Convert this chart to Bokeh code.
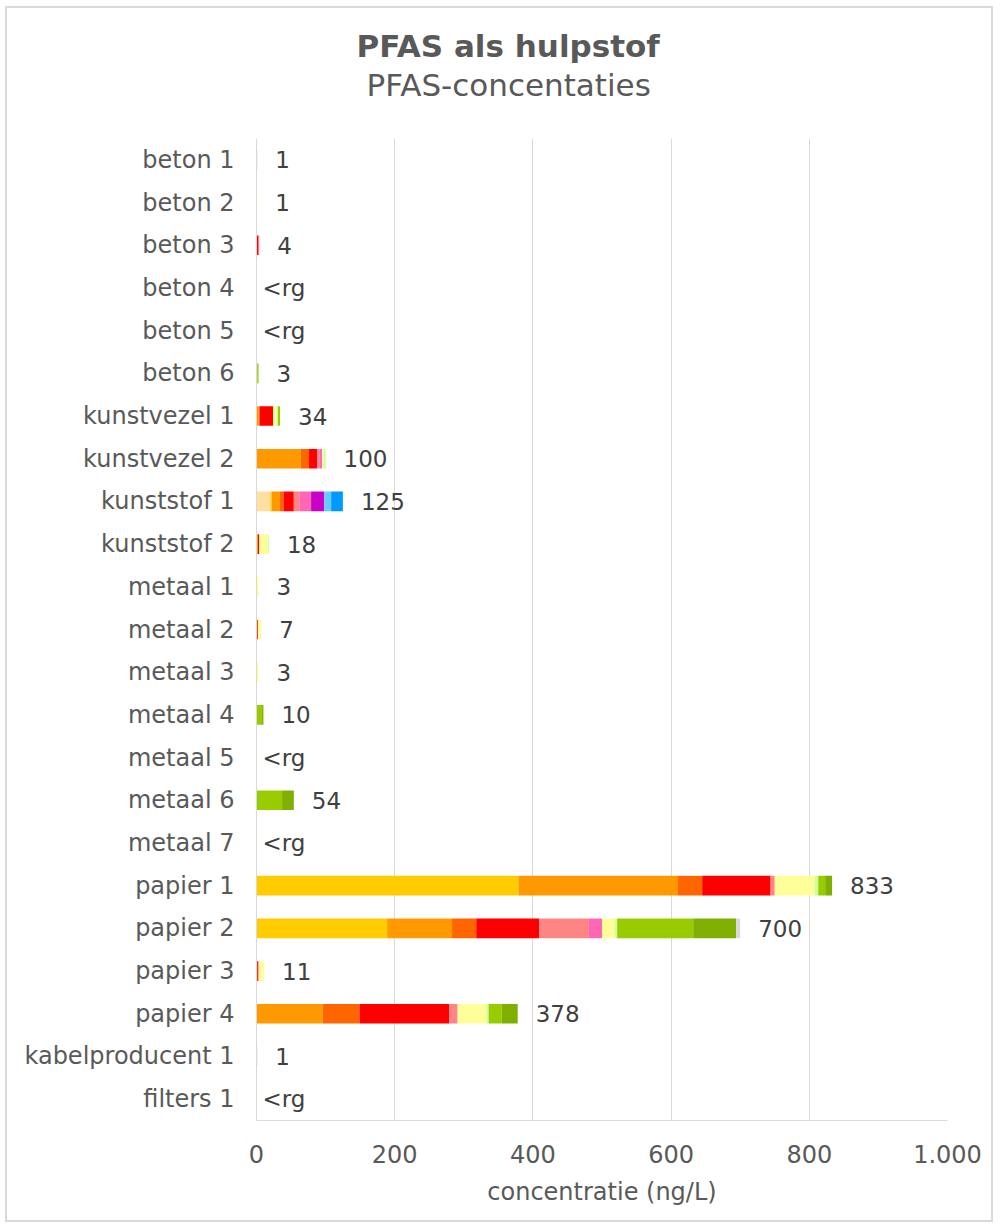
from bokeh.plotting import figure
from bokeh.models import ColumnDataSource, FactorRange, Range1d, Title, FixedTicker
from bokeh.embed import file_html
from bokeh.resources import INLINE
from bokeh.core.properties import value

categories = ["beton 1", "beton 2", "beton 3", "beton 4", "beton 5", "beton 6",
              "kunstvezel 1", "kunstvezel 2", "kunststof 1", "kunststof 2",
              "metaal 1", "metaal 2", "metaal 3", "metaal 4", "metaal 5", "metaal 6", "metaal 7",
              "papier 1", "papier 2", "papier 3", "papier 4", "kabelproducent 1", "filters 1"]

labels = ["1", "1", "4", "<rg", "<rg", "3", "34", "100", "125", "18", "3", "7", "3", "10",
          "<rg", "54", "<rg", "833", "700", "11", "378", "1", "<rg"]

# order:   b1 b2 b3 b4 b5 b6 kv1 kv2 ks1 ks2 m1 m2 m3 m4 m5 m6 m7 p1 p2 p3 p4 kab fil
comp_01 = [0, 0, 0, 0, 0, 0, 0, 0, 20, 0, 0, 0, 0, 0, 0, 0, 0, 0, 0, 0, 0, 0, 0]
comp_02 = [0, 0, 0, 0, 0, 0, 0, 0, 2, 0, 0, 0, 0, 0, 0, 0, 0, 379, 189, 0, 0, 0, 0]
comp_03 = [0, 0, 0, 0, 0, 0, 3, 64, 12, 2, 0, 0, 0, 0, 0, 0, 0, 231, 94, 0, 96, 0, 0]
comp_04 = [0, 0, 0, 0, 0, 0, 2, 12, 5, 0, 0, 0, 0, 0, 0, 0, 0, 35, 35, 1, 53, 0, 0]
comp_05 = [0, 0, 3, 0, 0, 0, 19, 12, 15, 2, 0, 2, 0, 0, 0, 0, 0, 99, 91, 2, 130, 0, 0]
comp_06 = [1, 0, 1, 0, 0, 0, 0, 3, 8, 0, 0, 0, 0, 0, 0, 0, 0, 6, 72, 0, 12, 1, 0]
comp_07 = [0, 0, 0, 0, 0, 0, 0, 4, 17, 0, 0, 0, 0, 0, 0, 0, 0, 0, 19, 0, 0, 0, 0]
comp_08 = [0, 0, 0, 0, 0, 0, 0, 0, 19, 0, 0, 0, 0, 0, 0, 0, 0, 0, 0, 0, 0, 0, 0]
comp_09 = [0, 0, 0, 0, 0, 0, 0, 0, 10, 0, 0, 0, 0, 0, 0, 0, 0, 0, 0, 0, 0, 0, 0]
comp_10 = [0, 0, 0, 0, 0, 0, 0, 0, 17, 0, 0, 0, 0, 0, 0, 0, 0, 0, 0, 0, 0, 0, 0]
comp_11 = [0, 1, 0, 0, 0, 0, 5, 2, 0, 13, 3, 5, 3, 0, 0, 0, 0, 58, 19, 8, 42, 0, 0]
comp_12 = [0, 0, 0, 0, 0, 1, 2, 3, 0, 1, 0, 0, 0, 0, 0, 0, 0, 5, 3, 0, 3, 0, 0]
comp_13 = [0, 0, 0, 0, 0, 2, 3, 0, 0, 0, 0, 0, 0, 8, 0, 37, 0, 10, 110, 0, 19, 0, 0]
comp_14 = [0, 0, 0, 0, 0, 0, 0, 0, 0, 0, 0, 0, 0, 2, 0, 17, 0, 10, 62, 0, 23, 0, 0]
comp_15 = [0, 0, 0, 0, 0, 0, 0, 0, 0, 0, 0, 0, 0, 0, 0, 0, 0, 0, 6, 0, 0, 0, 0]

series = {"comp_01": comp_01, "comp_02": comp_02, "comp_03": comp_03, "comp_04": comp_04,
          "comp_05": comp_05, "comp_06": comp_06, "comp_07": comp_07, "comp_08": comp_08,
          "comp_09": comp_09, "comp_10": comp_10, "comp_11": comp_11, "comp_12": comp_12,
          "comp_13": comp_13, "comp_14": comp_14, "comp_15": comp_15}
colors = ["#FFE0A0", "#FFCC00", "#FF9900", "#FF6600", "#FF0000", "#FF8585", "#FF66B3",
          "#C800C8", "#66CCFF", "#0099FF", "#FFFF99", "#CCFF99", "#99CC00", "#7FAF00", "#D9D9D9"]

x_ticks = [0, 200, 400, 600, 800, 1000]
x_tick_labels = ["0", "200", "400", "600", "800", "1.000"]

keys = list(series.keys())
data = {"cat": categories}
data.update(series)
source = ColumnDataSource(data)

totals = [sum(series[k][i] for k in keys) for i in range(len(categories))]
lab_src = ColumnDataSource(dict(
    cat=categories, x=totals, text=labels,
    off=[6 if t == "<rg" else 18 for t in labels]))

FONT = "DejaVu Sans"
GREY = "#595959"

p = figure(width=988, height=1216, output_backend="svg", toolbar_location=None,
           y_range=FactorRange(*list(reversed(categories))),
           x_range=Range1d(0, 1000),
           min_border_left=249, min_border_right=48, min_border_top=130, min_border_bottom=104,
           outline_line_color=None, border_fill_color="white",
           styles={"border": "2px solid #D9D9D9", "margin": "6px 0 0 5px"})

p.hbar_stack(keys, y="cat", height=0.46, color=colors, source=source, line_color=None)

p.text(x="x", y="cat", text="text", x_offset="off", source=lab_src,
       text_font=value(FONT), text_font_size="23px", text_color="#404040",
       text_align="left", text_baseline="middle")

p.xaxis.ticker = FixedTicker(ticks=x_ticks)
p.xaxis.major_label_overrides = {t: l for t, l in zip(x_ticks, x_tick_labels)}
p.xaxis.axis_label = "concentratie (ng/L)"
p.xaxis.axis_label_text_font = FONT
p.xaxis.axis_label_text_font_style = "normal"
p.xaxis.axis_label_text_font_size = "24px"
p.xaxis.axis_label_text_color = GREY
p.xaxis.axis_label_standoff = 12
p.xaxis.major_label_text_font = FONT
p.xaxis.major_label_text_font_size = "24px"
p.xaxis.major_label_text_color = GREY
p.xaxis.major_label_standoff = 18
p.xaxis.axis_line_color = "#D9D9D9"
p.xaxis.major_tick_line_color = None
p.xaxis.minor_tick_line_color = None

p.yaxis.major_label_text_font = FONT
p.yaxis.major_label_text_font_size = "24px"
p.yaxis.major_label_text_color = GREY
p.yaxis.major_label_standoff = 16
p.yaxis.axis_line_color = "#D9D9D9"
p.yaxis.major_tick_line_color = None
p.yaxis.minor_tick_line_color = None

p.xgrid.grid_line_color = "#D9D9D9"
p.ygrid.grid_line_color = None

# spacer between subtitle and plot area
p.add_layout(Title(text=" ", text_font=FONT, text_font_size="29px", standoff=0), "above")
p.add_layout(Title(text="PFAS-concentaties", text_font=FONT, text_font_size="31px",
                   text_font_style="normal", text_color=GREY, align="left", offset=110,
                   standoff=0), "above")
p.add_layout(Title(text="PFAS als hulpstof", text_font=FONT, text_font_size="31px",
                   text_font_style="bold", text_color=GREY, align="left", offset=100,
                   standoff=2), "above")

p.background_fill_color = "white"

open("out.html", "w").write(file_html(p, INLINE))
